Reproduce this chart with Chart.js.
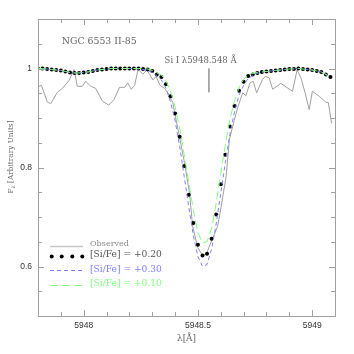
<!DOCTYPE html>
<html><head><meta charset="utf-8">
<script src="https://cdn.jsdelivr.net/npm/chart.js@4"></script>
<style>html,body{margin:0;padding:0;background:#fff;overflow:hidden}</style>
</head><body>
<canvas id="c" width="354" height="354"></canvas>
<script>
// ---- data ----
const modelWave = [
 5947.80,5947.82,5947.84,5947.86,5947.88,5947.90,5947.92,5947.94,5947.96,5947.98,
 5948.00,5948.02,5948.04,5948.06,5948.08,5948.10,5948.12,5948.14,5948.16,5948.18,
 5948.20,5948.22,5948.24,5948.26,5948.28,5948.30,5948.32,5948.34,5948.36,5948.38,
 5948.40,5948.42,5948.44,5948.46,5948.48,5948.50,5948.52,5948.54,5948.56,5948.58,
 5948.60,5948.62,5948.64,5948.66,5948.68,5948.70,5948.72,5948.74,5948.76,5948.78,
 5948.80,5948.82,5948.84,5948.86,5948.88,5948.90,5948.92,5948.94,5948.96,5948.98,
 5949.00,5949.02,5949.04,5949.06,5949.08];
const fitSiFe020 = [
 1.000,1.000,0.999,0.998,0.997,0.996,0.994,0.992,0.991,0.991,
 0.992,0.993,0.995,0.997,0.998,0.999,1.000,1.000,1.000,1.000,
 1.000,1.000,1.000,0.999,0.998,0.995,0.988,0.983,0.968,0.944,
 0.909,0.862,0.803,0.745,0.688,0.644,0.622,0.626,0.656,0.705,
 0.766,0.826,0.883,0.924,0.955,0.973,0.985,0.988,0.991,0.993,
 0.994,0.995,0.996,0.997,0.998,0.999,0.999,1.000,0.999,0.998,
 0.997,0.995,0.993,0.988,0.983];
const fitSiFe030 = [
 1.000,1.000,0.999,0.998,0.997,0.996,0.994,0.992,0.991,0.991,
 0.992,0.993,0.995,0.997,0.998,0.999,1.000,1.000,1.000,1.000,
 1.000,1.000,0.999,0.998,0.996,0.992,0.985,0.977,0.960,0.933,
 0.895,0.843,0.782,0.720,0.662,0.620,0.600,0.604,0.636,0.686,
 0.748,0.810,0.868,0.912,0.946,0.966,0.980,0.986,0.990,0.993,
 0.994,0.995,0.996,0.997,0.998,0.999,0.999,1.000,0.999,0.998,
 0.997,0.995,0.993,0.988,0.983];
const fitSiFe010 = [
 1.000,1.000,0.999,0.998,0.997,0.996,0.994,0.992,0.991,0.991,
 0.992,0.993,0.995,0.997,0.998,0.999,1.000,1.000,1.000,1.000,
 1.000,1.000,1.000,1.000,0.999,0.996,0.991,0.987,0.975,0.955,
 0.923,0.880,0.826,0.770,0.714,0.668,0.648,0.650,0.678,0.728,
 0.788,0.846,0.898,0.934,0.962,0.978,0.988,0.990,0.992,0.993,
 0.994,0.995,0.996,0.997,0.998,0.999,0.999,1.000,0.999,0.998,
 0.997,0.995,0.993,0.988,0.983];
const obsWave = [
 5947.800,5947.815,5947.841,5947.856,5947.885,5947.907,5947.936,5947.958,5947.972,5947.994,
 5948.009,5948.031,5948.052,5948.082,5948.110,5948.132,5948.157,5948.179,5948.193,5948.208,
 5948.223,5948.238,5948.259,5948.277,5948.303,5948.317,5948.334,5948.354,5948.368,5948.390,
 5948.397,5948.419,5948.441,5948.463,5948.477,5948.499,5948.518,5948.536,5948.550,5948.572,
 5948.586,5948.597,5948.608,5948.623,5948.638,5948.659,5948.674,5948.696,5948.710,5948.728,
 5948.742,5948.757,5948.783,5948.795,5948.812,5948.827,5948.863,5948.885,5948.914,5948.934,
 5948.951,5948.969,5948.987,5949.001,5949.031,5949.060,5949.071,5949.085];
const obsFlux = [
 0.963,0.966,0.932,0.929,0.952,0.960,0.976,0.998,0.964,0.964,
 0.974,0.964,0.960,0.934,0.926,0.937,0.962,0.962,0.971,0.958,
 0.966,0.998,0.989,0.997,0.977,0.984,0.966,0.960,0.951,0.931,
 0.913,0.863,0.810,0.749,0.681,0.638,0.624,0.624,0.641,0.665,
 0.681,0.708,0.739,0.780,0.857,0.895,0.921,0.951,0.945,0.971,
 0.974,0.951,0.978,0.984,0.981,0.958,0.970,0.963,0.954,0.997,
 0.981,0.951,0.917,0.954,0.944,0.932,0.931,0.889];
const markerWave = [5948.548, 5948.548];
const markerFlux = [1.000, 0.952];
const xTickLabels = [5948, 5948.5, 5949];
const yTickLabels = [0.6, 0.8, 1];
const legendLabels = ['Observed', '[Si/Fe] = +0.20', '[Si/Fe] = +0.30', '[Si/Fe] = +0.10'];
const starName = 'NGC 6553 II-85';
const lineLabel = 'Si I \u03bb5948.548 \u00c5';
const xTitle = '\u03bb[\u00c5]';

// ---- styles ----
const GREY = '#a0a0a0', BLUE = '#8080ff', GREEN = '#80ff80';
const SERIF = '"DejaVu Serif", serif';
const SANS = '"Liberation Sans", Arial, sans-serif';

const pts = (xs, ys) => xs.map((x, i) => ({x, y: ys[i]}));

function fitFont(ctx, text, width, family) {
  ctx.font = '10px ' + family;
  const w = ctx.measureText(text).width;
  return (10 * width / w).toFixed(2) + 'px ' + family;
}
function drawFit(ctx, text, left, cy, width, color) {
  ctx.font = fitFont(ctx, text, width, SERIF);
  ctx.fillStyle = color;
  ctx.textAlign = 'left';
  ctx.textBaseline = 'middle';
  ctx.fillText(text, left, cy);
}

const decor = {
  id: 'decor',
  afterDraw(chart) {
    const {ctx, chartArea: a, scales: {x, y}} = chart;
    ctx.save();
    // frame
    ctx.strokeStyle = GREY; ctx.lineWidth = 1;
    ctx.strokeRect(Math.round(a.left) + 0.5, Math.round(a.top) + 0.5,
                   Math.round(a.right - a.left), Math.round(a.bottom - a.top));
    // inward ticks
    ctx.beginPath();
    for (let k = 0; k <= 13; k++) {
      const v = 5947.8 + k * 0.1;
      const major = Math.abs(v * 2 - Math.round(v * 2)) < 1e-6;
      const L = major ? 6 : 4;
      const px = Math.round(x.getPixelForValue(v)) + 0.5;
      ctx.moveTo(px, a.bottom); ctx.lineTo(px, a.bottom - L);
      ctx.moveTo(px, a.top); ctx.lineTo(px, a.top + L);
    }
    for (let k = 0; k <= 12; k++) {
      const v = 0.5 + k * 0.05;
      const major = Math.abs(v * 5 - Math.round(v * 5)) < 1e-6;
      const L = major ? 6 : 4;
      const py = Math.round(y.getPixelForValue(v)) + 0.5;
      ctx.moveTo(a.left, py); ctx.lineTo(a.left + L, py);
      ctx.moveTo(a.right, py); ctx.lineTo(a.right - L, py);
    }
    ctx.stroke();

    // annotations
    drawFit(ctx, starName, x.getPixelForValue(5947.904), y.getPixelForValue(1.055), 75, '#666');
    drawFit(ctx, lineLabel, x.getPixelForValue(5948.354), y.getPixelForValue(1.0165), 72, '#666');

    // legend
    ctx.setLineDash([]);
    ctx.strokeStyle = '#c8c8c8'; ctx.lineWidth = 1.5;
    ctx.beginPath(); ctx.moveTo(50, 246.5); ctx.lineTo(83, 246.5); ctx.stroke();
    ctx.fillStyle = '#000';
    [51.7, 61.7, 72.3, 82.3].forEach(cx => { ctx.beginPath(); ctx.arc(cx, 256.5, 2, 0, Math.PI * 2); ctx.fill(); });
    ctx.lineWidth = 1;
    ctx.strokeStyle = BLUE; ctx.setLineDash([4, 3]);
    ctx.beginPath(); ctx.moveTo(50, 270.5); ctx.lineTo(83, 270.5); ctx.stroke();
    ctx.strokeStyle = GREEN; ctx.setLineDash([8, 4]);
    ctx.beginPath(); ctx.moveTo(50, 285.5); ctx.lineTo(83, 285.5); ctx.stroke();
    ctx.setLineDash([]);
    drawFit(ctx, legendLabels[0], 90, 244.3, 39, '#888');
    drawFit(ctx, legendLabels[1], 90, 254.5, 72, '#555');
    drawFit(ctx, legendLabels[2], 90, 269.5, 72, BLUE);
    drawFit(ctx, legendLabels[3], 90, 283.8, 72, GREEN);

    // x title
    ctx.font = fitFont(ctx, xTitle, 19, SERIF);
    ctx.fillStyle = '#666'; ctx.textAlign = 'center'; ctx.textBaseline = 'middle';
    ctx.fillText(xTitle, (a.left + a.right) / 2, 339);

    // y title with subscript lambda
    const rest = ' [Arbitrary Units]';
    ctx.translate(11, 157);
    ctx.rotate(-Math.PI / 2);
    ctx.font = '8px ' + SERIF;
    const wF = ctx.measureText('F').width;
    const wR = ctx.measureText(rest).width;
    ctx.font = '5.5px ' + SERIF;
    const wL = ctx.measureText('\u03bb').width;
    const total = wF + wL + wR;
    const s = 73 / total;
    ctx.scale(s, s);
    let cx = -total / 2;
    ctx.textAlign = 'left'; ctx.textBaseline = 'middle'; ctx.fillStyle = '#666';
    ctx.font = '8px ' + SERIF; ctx.fillText('F', cx, 0); cx += wF;
    ctx.font = '5.5px ' + SERIF; ctx.fillText('\u03bb', cx, 2.5); cx += wL;
    ctx.font = '8px ' + SERIF; ctx.fillText(rest, cx, 0);
    ctx.restore();
  }
};

new Chart(document.getElementById('c'), {
  type: 'line',
  data: {
    datasets: [
      {label: legendLabels[0], data: pts(obsWave, obsFlux), borderColor: GREY, borderWidth: 1,
       pointRadius: 0, tension: 0, order: 5},
      {label: 'marker', data: pts(markerWave, markerFlux), borderColor: GREY, borderWidth: 1,
       pointRadius: 0, order: 4},
      {label: legendLabels[1], data: pts(modelWave, fitSiFe020), showLine: false,
       pointRadius: 2, pointBackgroundColor: '#000', pointBorderWidth: 0, order: 3},
      {label: legendLabels[2], data: pts(modelWave, fitSiFe030), borderColor: BLUE, borderWidth: 1,
       borderDash: [4, 3], pointRadius: 0, tension: 0, order: 2},
      {label: legendLabels[3], data: pts(modelWave, fitSiFe010), borderColor: GREEN, borderWidth: 1,
       borderDash: [8, 4], pointRadius: 0, tension: 0, order: 1}
    ]
  },
  options: {
    responsive: false, animation: false, devicePixelRatio: 1,
    layout: {padding: {left: 0, right: 19, top: 19, bottom: 0}},
    plugins: {legend: {display: false}, tooltip: {enabled: false}},
    scales: {
      x: {type: 'linear', min: 5947.8, max: 5949.1,
          afterFit: s => { s.height = 38; },
          afterBuildTicks: s => { s.ticks = xTickLabels.map(v => ({value: v})); },
          grid: {display: false, drawTicks: false}, border: {display: false},
          ticks: {padding: 5, color: '#333', font: {family: SANS, size: 8.5},
                  maxRotation: 0, autoSkip: false, callback: v => String(+(+v).toFixed(2))}},
      y: {type: 'linear', min: 0.5, max: 1.1,
          afterFit: s => { s.width = 38; },
          afterBuildTicks: s => { s.ticks = yTickLabels.map(v => ({value: v})); },
          grid: {display: false, drawTicks: false}, border: {display: false},
          ticks: {padding: 6, color: '#333', font: {family: SANS, size: 8.5},
                  autoSkip: false, callback: v => String(+(+v).toFixed(2))}}
    }
  },
  plugins: [decor]
});
</script>
</body></html>
